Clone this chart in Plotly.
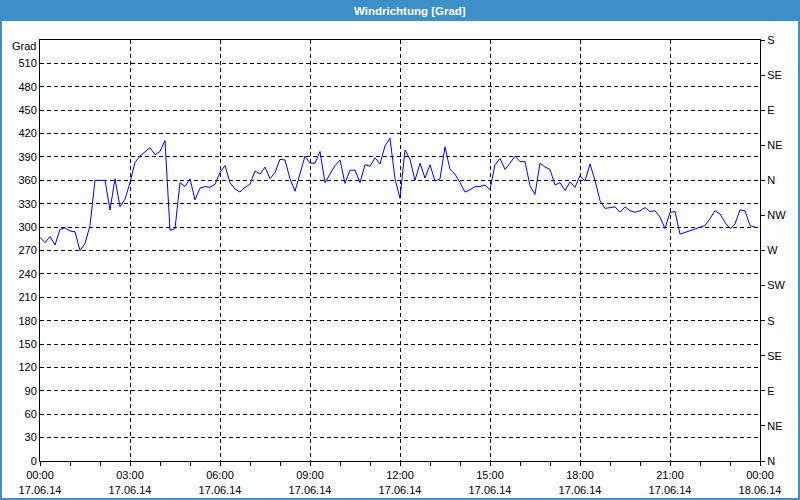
import pandas as pd
import plotly.graph_objects as go

# Wind direction readings every 10 minutes, 17.06.14 00:00 .. 23:50 (degrees)
start_time = "2014-06-17 00:00"
interval = "10min"
direction_deg = [
    287, 280, 288, 277, 297, 299, 295, 294, 270, 279, 302, 360,
    360, 360, 322, 362, 326, 336, 357, 383, 391, 397, 402, 393,
    397, 411, 296, 298, 357, 352, 362, 335, 350, 352, 351, 355,
    370, 379, 357, 349, 345, 351, 355, 372, 368, 377, 362, 370,
    387, 386, 362, 346, 370, 391, 382, 382, 397, 357, 368, 379,
    386, 356, 373, 373, 357, 380, 378, 389, 381, 404, 414, 362,
    337, 399, 387, 360, 382, 363, 380, 359, 362, 403, 374, 368,
    357, 345, 348, 352, 352, 354, 348, 380, 388, 374, 382, 391,
    384, 384, 353, 342, 382, 377, 374, 354, 357, 347, 358, 351,
    366, 359, 381, 360, 334, 324, 325, 326, 319, 326, 321, 319,
    321, 325, 320, 321, 313, 298, 319, 320, 291, 293, 295, 297,
    299, 302, 311, 321, 317, 306, 298, 304, 322, 321, 302, 300,
]

left_tick_vals = list(range(0, 540, 30))
compass_vals = list(range(0, 541, 45))
compass_text = ["N", "NE", "E", "SE", "S", "SW", "W", "NW", "N", "NE", "E", "SE", "S"]

title_text = "Windrichtung [Grad]"
unit_text = "Grad"
x_start = "2014-06-17 00:00"
x_end = "2014-06-18 00:00"

times = pd.date_range(start_time, periods=len(direction_deg), freq=interval)

W, H = 800, 500
L, R, T, B = 40, 40, 40, 39
pw, ph = W - L - R, H - T - B

def px_x(x):
    return (x - L) / pw

def px_y(y):
    return 1 - (y - T) / ph

font_main = "Liberation Sans, Arial, sans-serif"
grid_color = "#000000"

fig = go.Figure()
fig.add_trace(go.Scatter(
    x=times, y=direction_deg, mode="lines",
    line=dict(color="#0000ff", width=1), showlegend=False,
))
# invisible trace for the compass axis
fig.add_trace(go.Scatter(
    x=[times[0]], y=[0], yaxis="y2", mode="markers",
    marker=dict(opacity=0), showlegend=False, hoverinfo="skip",
))

fig.update_layout(
    width=W, height=H,
    margin=dict(l=L, r=R, t=T, b=B, autoexpand=False),
    paper_bgcolor="#fcfefe",
    plot_bgcolor="#fcfefe",
    font=dict(family=font_main, size=11, color="#000000"),
    xaxis=dict(
        type="date",
        range=[x_start, x_end],
        dtick=3 * 3600 * 1000,
        tick0=x_start,
        tickformat="%H:%M<br>%d.%m.%y",
        showgrid=True, gridcolor=grid_color, gridwidth=1, griddash="4px,3px",
        showline=True, linecolor="#000000", linewidth=1, mirror=True,
        ticks="outside", ticklen=4, tickcolor="#000000",
        minor=dict(dtick=3600 * 1000, ticks="outside", ticklen=4,
                   tickcolor="#000000", showgrid=False),
        zeroline=False, automargin=False,
        tickfont=dict(size=11),
    ),
    yaxis=dict(
        range=[0, 540],
        tickvals=left_tick_vals,
        showgrid=True, gridcolor=grid_color, gridwidth=1, griddash="4px,3px",
        showline=True, linecolor="#000000", linewidth=1, mirror=True,
        ticks="", zeroline=False, automargin=False,
        tickfont=dict(size=11),
    ),
    yaxis2=dict(
        range=[0, 540], overlaying="y", side="right",
        tickvals=compass_vals, ticktext=compass_text,
        showgrid=False, zeroline=False, automargin=False,
        ticks="outside", ticklen=4, tickcolor="#000000",
        showline=True, linecolor="#000000",
        tickfont=dict(size=11),
    ),
    shapes=[
        dict(type="rect", xref="paper", yref="paper", layer="below",
             x0=px_x(0), x1=px_x(W), y0=px_y(21), y1=px_y(0),
             fillcolor="#3d8fc7", line=dict(width=0)),
        dict(type="rect", xref="paper", yref="paper",
             x0=px_x(1), x1=px_x(W - 1), y0=px_y(H - 1), y1=px_y(1),
             fillcolor="rgba(0,0,0,0)", line=dict(color="#3d8fc7", width=2)),
    ],
    annotations=[
        dict(text="<b>" + title_text + "</b>", xref="paper", yref="paper",
             x=px_x(410), y=px_y(10.5), xanchor="center", yanchor="middle",
             showarrow=False, font=dict(color="#ffffff", size=11.5, family=font_main)),
        dict(text=unit_text, xref="paper", yref="paper",
             x=px_x(38), y=px_y(46), xanchor="right", yanchor="middle",
             showarrow=False, font=dict(size=11, family=font_main)),
    ],
)

fig.write_html(
    "out.html",
    config={"displayModeBar": False},
    post_script="document.body.style.margin='0';document.body.style.overflow='hidden';",
)
